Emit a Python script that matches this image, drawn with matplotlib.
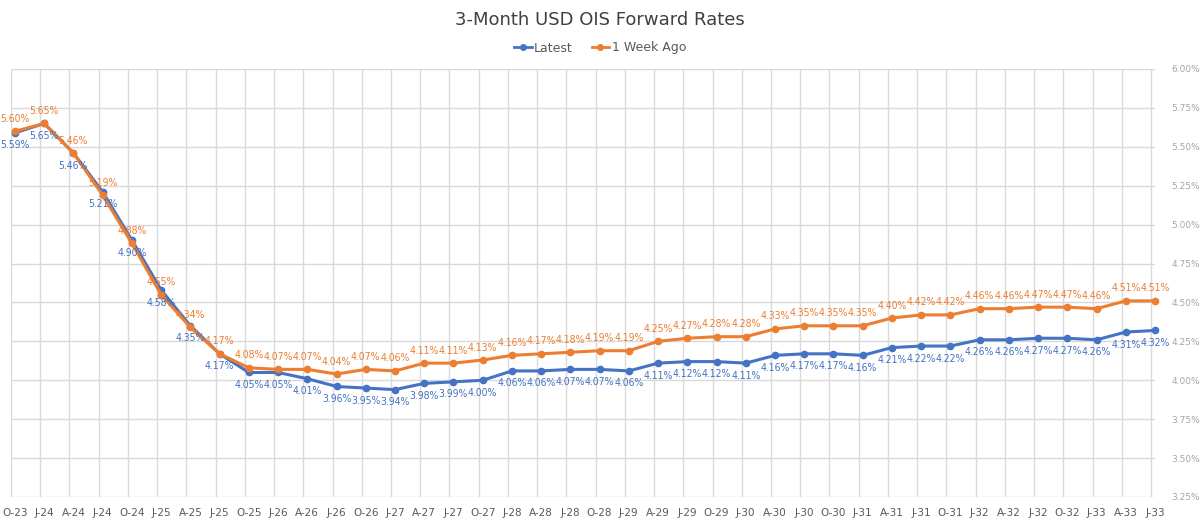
import matplotlib
matplotlib.use("Agg")
import matplotlib.pyplot as plt
import numpy as np
from matplotlib.lines import Line2D
from matplotlib import font_manager

categories = ["O-23", "J-24", "A-24", "J-24", "O-24", "J-25", "A-25", "J-25", "O-25", "J-26",
              "A-26", "J-26", "O-26", "J-27", "A-27", "J-27", "O-27", "J-28", "A-28", "J-28",
              "O-28", "J-29", "A-29", "J-29", "O-29", "J-30", "A-30", "J-30", "O-30", "J-31",
              "A-31", "J-31", "O-31", "J-32", "A-32", "J-32", "O-32", "J-33", "A-33", "J-33"]
latest = [5.59, 5.65, 5.46, 5.21, 4.90, 4.58, 4.35, 4.17, 4.05, 4.05,
          4.01, 3.96, 3.95, 3.94, 3.98, 3.99, 4.00, 4.06, 4.06, 4.07,
          4.07, 4.06, 4.11, 4.12, 4.12, 4.11, 4.16, 4.17, 4.17, 4.16,
          4.21, 4.22, 4.22, 4.26, 4.26, 4.27, 4.27, 4.26, 4.31, 4.32]
week_ago = [5.60, 5.65, 5.46, 5.19, 4.88, 4.55, 4.34, 4.17, 4.08, 4.07,
            4.07, 4.04, 4.07, 4.06, 4.11, 4.11, 4.13, 4.16, 4.17, 4.18,
            4.19, 4.19, 4.25, 4.27, 4.28, 4.28, 4.33, 4.35, 4.35, 4.35,
            4.40, 4.42, 4.42, 4.46, 4.46, 4.47, 4.47, 4.46, 4.51, 4.51]
yticks = [3.25, 3.50, 3.75, 4.00, 4.25, 4.50, 4.75, 5.00, 5.25, 5.50, 5.75, 6.00]

BLUE = "#4472C4"
ORANGE = "#ED7D31"
GRID = "#D9D9D9"

# pick a narrow font if one is installed
names = {f.name for f in font_manager.fontManager.ttflist}
cond_files = [f.fname for f in font_manager.fontManager.ttflist
              if f.name == "DejaVu Sans" and "Condensed" in f.fname and "Bold" not in f.fname
              and "Oblique" not in f.fname]
if cond_files:
    label_font = font_manager.FontProperties(fname=cond_files[0], size=7.5)
elif "Liberation Sans Narrow" in names:
    label_font = font_manager.FontProperties(family="Liberation Sans Narrow", size=8)
else:
    label_font = font_manager.FontProperties(family="DejaVu Sans", size=6.5)

plt.rcParams['font.family'] = ['DejaVu Sans']

W, H = 1200, 521
fig = plt.figure(figsize=(W / 100, H / 100), dpi=100)
left_px, right_px, top_px, bot_px = 11, 1155, 69, 497
ax = fig.add_axes([left_px / W, 1 - bot_px / H, (right_px - left_px) / W, (bot_px - top_px) / H])

off = 0.136
x = np.arange(len(categories))
ax.set_xlim(-off, len(categories) - 1 - off)
ax.set_ylim(3.25, 6.00)

for gx in x - off:
    ax.axvline(gx, color=GRID, lw=1.0, zorder=0)
for gy in yticks:
    ax.axhline(gy, color=GRID, lw=1.0, zorder=0)

ax.plot(x, latest, color=BLUE, lw=2.2, marker="o", ms=4.5, clip_on=False, zorder=3)
ax.plot(x, week_ago, color=ORANGE, lw=2.2, marker="o", ms=4.5, clip_on=False, zorder=4)

for xi, v in zip(x, latest):
    ax.annotate(f"{v:.2f}%", (xi, v), xytext=(0, -9), textcoords="offset points",
                ha="center", va="center", fontproperties=label_font, color=BLUE, zorder=5,
                annotation_clip=False)
for xi, v in zip(x, week_ago):
    ax.annotate(f"{v:.2f}%", (xi, v), xytext=(0, 9), textcoords="offset points",
                ha="center", va="center", fontproperties=label_font, color=ORANGE, zorder=5,
                annotation_clip=False)

ax.set_xticks(x)
ax.set_xticklabels(categories, fontsize=7.5, color="#595959")
ax.yaxis.tick_right()
ax.set_yticks(yticks)
ax.set_yticklabels([f"{t:.2f}%" for t in yticks], fontsize=6.5, color="#A6A6A6")
ax.tick_params(axis="both", length=0)
ax.tick_params(axis="x", pad=8)
ax.tick_params(axis="y", pad=12)
for s in ax.spines.values():
    s.set_visible(False)

fig.text(0.5, 1 - 20 / H, "3-Month USD OIS Forward Rates", ha="center", va="center",
         fontsize=13, color="#404040")

handles = [Line2D([0], [0], color=BLUE, lw=2, marker="o", ms=4),
           Line2D([0], [0], color=ORANGE, lw=2, marker="o", ms=4)]
fig.legend(handles, ["Latest", "1 Week Ago"], loc="center", bbox_to_anchor=(0.5, 1 - 48 / H),
           ncol=2, frameon=False, fontsize=9, handlelength=1.4, handletextpad=0.2,
           columnspacing=1.5, labelcolor="#595959")

fig.savefig("out.png", dpi=100, facecolor="white")
